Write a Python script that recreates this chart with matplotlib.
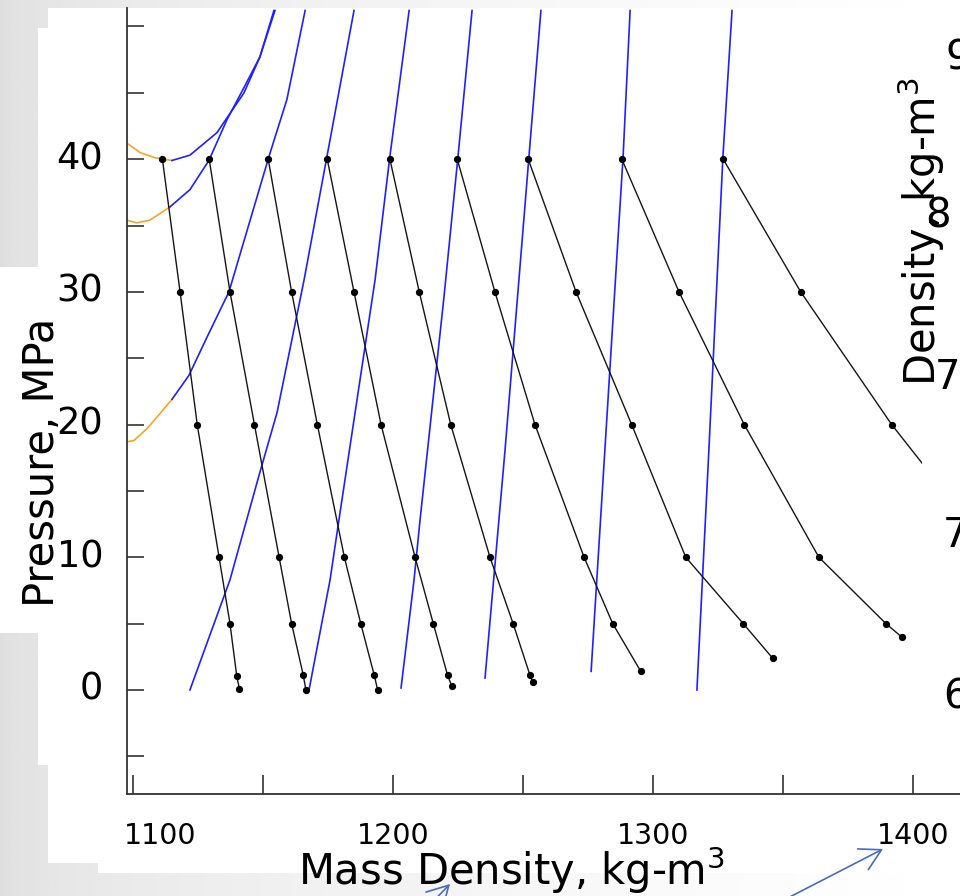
import matplotlib
matplotlib.use("Agg")
import matplotlib.pyplot as plt
import numpy as np
from matplotlib.patches import Rectangle
from matplotlib.transforms import ScaledTranslation

# ---------------- data ----------------
# black isotherm-like curves (mass density, pressure) with markers
c1_x = [1111.3, 1118.1, 1124.7, 1133.1, 1137.3, 1139.9, 1140.9]
c1_y = [40, 30, 20, 10, 5, 1.05, 0.1]
c2_x = [1129.3, 1137.3, 1146.7, 1156.2, 1161.0, 1165.5, 1166.5]
c2_y = [40, 30, 20, 10, 5, 1.1, 0.0]
c3_x = [1152.0, 1161.0, 1170.9, 1181.3, 1187.6, 1192.8, 1194.1]
c3_y = [40, 30, 20, 10, 5, 1.1, 0.0]
c4_x = [1174.7, 1185.0, 1195.4, 1208.5, 1215.5, 1221.0, 1222.6]
c4_y = [40, 30, 20, 10, 5, 1.1, 0.3]
c5_x = [1198.8, 1210.1, 1222.2, 1237.3, 1246.2, 1252.7, 1253.7]
c5_y = [40, 30, 20, 10, 5, 1.1, 0.6]
c6_x = [1224.7, 1239.2, 1254.6, 1273.5, 1284.5, 1295.3]
c6_y = [40, 30, 20, 10, 5, 1.4]
c7_x = [1252.0, 1270.4, 1291.8, 1312.6, 1334.7, 1346.0]
c7_y = [40, 30, 20, 10, 5, 2.4]
c8_x = [1288.0, 1310.0, 1335.1, 1363.8, 1389.6, 1395.6]
c8_y = [40, 30, 20, 10, 5.0, 4.0]
c9_x = [1327.0, 1356.8, 1391.8, 1432.0]
c9_y = [40, 30, 20, 10]

# orange (low-density) branches
o1_x = [1097.7, 1102.7, 1108.5, 1115.0]
o1_y = [41.2, 40.5, 40.1, 39.9]
o2_x = [1097.7, 1101.5, 1106.5, 1114.2]
o2_y = [35.4, 35.2, 35.4, 36.4]
o3_x = [1097.7, 1100.4, 1105.4, 1108.1, 1115.0]
o3_y = [18.7, 18.8, 19.7, 20.3, 21.9]

# blue lines
b1_x = [1115.0, 1121.9, 1132.3, 1142.7, 1148.8, 1154.2]
b1_y = [39.9, 40.3, 42.0, 45.0, 47.7, 51.2]
b2_x = [1114.2, 1121.9, 1129.2, 1136.2, 1142.7, 1148.8, 1154.6]
b2_y = [36.4, 37.7, 39.9, 43.0, 45.4, 47.7, 51.2]
b3_x = [1115.0, 1121.5, 1128.5, 1136.9, 1152.3, 1159.2, 1166.2]
b3_y = [21.9, 23.7, 26.6, 30.0, 40.2, 44.5, 51.2]
b4_x = [1121.9, 1137.3, 1148.8, 1155.4, 1165.8, 1174.6, 1185.0]
b4_y = [0.0, 8.3, 16.4, 20.9, 30.9, 40.2, 51.2]
b5_x = [1167.7, 1175.8, 1179.2, 1193.1, 1198.8, 1206.2]
b5_y = [0.0, 8.3, 12.8, 30.9, 40.2, 51.2]
b6_x = [1203.1, 1208.1, 1210.4, 1219.6, 1225.0, 1230.4]
b6_y = [0.15, 8.3, 12.8, 29.6, 40.2, 51.2]
b7_x = [1235.4, 1243.1, 1252.3, 1256.9]
b7_y = [0.9, 18.1, 40.2, 51.2]
b8_x = [1276.2, 1281.5, 1288.5, 1291.2]
b8_y = [1.4, 18.1, 40.2, 51.2]
b9_x = [1316.9, 1321.5, 1326.9, 1330.4]
b9_y = [0.0, 18.1, 40.2, 51.2]

x_major = [1100, 1200, 1300, 1400]
x_minor = [1150, 1250, 1350]
y_major = [0, 10, 20, 30, 40]
y_minor = [-5, 5, 15, 25, 35, 45, 50]
right_digits = ["9", "8", "7", "7", "6"]

black_curves = [(c1_x, c1_y), (c2_x, c2_y), (c3_x, c3_y), (c4_x, c4_y),
                (c5_x, c5_y), (c6_x, c6_y), (c7_x, c7_y), (c8_x, c8_y),
                (c9_x, c9_y)]
orange_curves = [(o1_x, o1_y), (o2_x, o2_y), (o3_x, o3_y)]
blue_curves = [(b1_x, b1_y), (b2_x, b2_y), (b3_x, b3_y), (b4_x, b4_y),
               (b5_x, b5_y), (b6_x, b6_y), (b7_x, b7_y), (b8_x, b8_y),
               (b9_x, b9_y)]

# ---------------- figure ----------------
W, H = 960, 896
fig = plt.figure(figsize=(W / 100, H / 100), dpi=100)
plt.rcParams["font.family"] = ["DejaVu Sans"]

# slide background (gray gradient with white panels)
bg = fig.add_axes([0, 0, 1, 1], zorder=-10)
xx = np.linspace(0, 1, 400)
shade = 0.87 + 0.13 * np.sqrt(xx)
grad = np.tile(shade, (20, 1))
bg.imshow(grad, cmap="gray", vmin=0, vmax=1, aspect="auto",
          extent=(0, W, H, 0), interpolation="bilinear")
for (rx, ry, rw, rh) in [(48, 8, 912, 855), (38, 28, 10, 737),
                         (0, 267, 38, 366), (98, 863, 862, 10)]:
    bg.add_patch(Rectangle((rx, ry), rw, rh, facecolor="white",
                           edgecolor="none"))
bg.set_xlim(0, W)
bg.set_ylim(H, 0)
bg.axis("off")

# main axes
ax = fig.add_axes([127 / W, 1 - 794 / H, (W - 127) / W, (794 - 8) / H])
ax.set_facecolor("white")
ax.set_xlim(1097.69, 1418.08)
ax.set_ylim(-7.84, 51.39)

for xs, ys in orange_curves:
    ax.plot(xs, ys, color="#f5a623", lw=1.2, zorder=2)
for xs, ys in blue_curves:
    ax.plot(xs, ys, color="#1f1fff", lw=1.2, zorder=2)
for xs, ys in black_curves:
    ax.plot(xs, ys, color="#151515", lw=1.0, marker="o", ms=4.2,
            mec="#000000", mfc="#000000", zorder=3)

for s in ["top", "right"]:
    ax.spines[s].set_visible(False)
for s in ["left", "bottom"]:
    ax.spines[s].set_color("#333333")
    ax.spines[s].set_linewidth(1.3)

ax.set_xticks(x_major)
ax.set_xticks(x_minor, minor=True)
ax.set_xticklabels([str(v) for v in x_major])
ax.set_yticks(y_major)
ax.set_yticks(y_minor, minor=True)
ax.set_yticklabels([str(v) for v in y_major])
ax.tick_params(axis="x", which="both", direction="in", length=14, width=1.2,
               color="#333333", labelsize=20.5, pad=20)
ax.tick_params(axis="y", which="both", direction="in", length=12, width=1.2,
               color="#333333", labelsize=26.5, pad=17)

# first x label sits a little to the right in the reference; y labels slightly up
t0 = ax.xaxis.get_major_ticks()[0].label1
t0.set_transform(t0.get_transform() + ScaledTranslation(0.27, 0, fig.dpi_scale_trans))
for tk in ax.yaxis.get_major_ticks():
    tk.label1.set_transform(tk.label1.get_transform()
                            + ScaledTranslation(0, 0.045, fig.dpi_scale_trans))

# axis titles
fig.text(511 / W, 1 - 885 / H, "Mass Density, kg-m$^3$", fontsize=30,
         ha="center", va="baseline")
fig.text(42 / W, 1 - 462 / H, "Pressure, MPa", fontsize=30, rotation=90,
         ha="center", va="center")

# overlapping right-hand element of the slide
fig.add_artist(Rectangle((922 / W, 1 - 775 / H), 38 / W, 335 / H,
                         transform=fig.transFigure, facecolor="white",
                         edgecolor="none", zorder=3))
digit_pos = [(945, 58), (925, 216), (935, 378), (943, 536), (943, 697)]
for d, (px, py) in zip(right_digits, digit_pos):
    fig.text(px / W, 1 - py / H, d, fontsize=29, ha="left", va="center",
             zorder=4)
fig.text(921 / W, 1 - 232 / H, "Density, kg-m$^3$", fontsize=30, rotation=90,
         ha="center", va="center", zorder=5)

# blue pointer arrows
arrow_style = dict(arrowstyle="->,head_length=0.5,head_width=0.28",
                   color="#4a6cb8", lw=1.2, mutation_scale=30,
                   shrinkA=0, shrinkB=0)
bg.annotate("", xy=(450, 884), xytext=(420, 915), arrowprops=arrow_style,
            annotation_clip=False)
bg.annotate("", xy=(883, 849), xytext=(745, 920), arrowprops=arrow_style,
            annotation_clip=False)

fig.savefig("out.png", dpi=100)
